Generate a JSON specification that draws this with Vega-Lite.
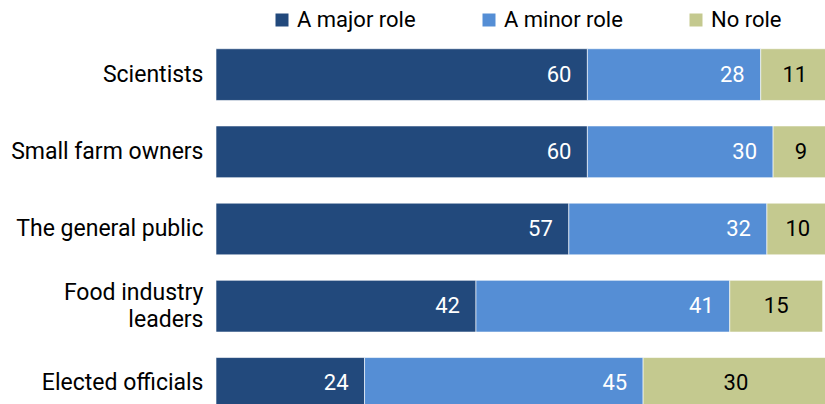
{
  "$schema": "https://vega.github.io/schema/vega-lite/v6.json",
  "autosize": {"type": "none"},
  "padding": {"left": 216, "top": 36, "right": 0, "bottom": 0},
  "width": 619,
  "height": 386,
  "background": "white",
  "config": {"view": {"stroke": null}, "font": "Roboto"},
  "data": {
    "values": [
      {"group": "Scientists", "role": "A major role", "order": 1, "value": 60},
      {"group": "Scientists", "role": "A minor role", "order": 2, "value": 28},
      {"group": "Scientists", "role": "No role", "order": 3, "value": 11},
      {"group": "Small farm owners", "role": "A major role", "order": 1, "value": 60},
      {"group": "Small farm owners", "role": "A minor role", "order": 2, "value": 30},
      {"group": "Small farm owners", "role": "No role", "order": 3, "value": 9},
      {"group": "The general public", "role": "A major role", "order": 1, "value": 57},
      {"group": "The general public", "role": "A minor role", "order": 2, "value": 32},
      {"group": "The general public", "role": "No role", "order": 3, "value": 10},
      {"group": "Food industry leaders", "role": "A major role", "order": 1, "value": 42},
      {"group": "Food industry leaders", "role": "A minor role", "order": 2, "value": 41},
      {"group": "Food industry leaders", "role": "No role", "order": 3, "value": 15},
      {"group": "Elected officials", "role": "A major role", "order": 1, "value": 24},
      {"group": "Elected officials", "role": "A minor role", "order": 2, "value": 45},
      {"group": "Elected officials", "role": "No role", "order": 3, "value": 30}
    ]
  },
  "transform": [
    {"stack": "value", "groupby": ["group"], "sort": [{"field": "order", "order": "ascending"}], "as": ["x0", "x1"], "offset": "zero"},
    {"calculate": "(datum.x0 + datum.x1) / 2", "as": "xmid"}
  ],
  "encoding": {
    "y": {
      "field": "group",
      "type": "nominal",
      "sort": ["Scientists", "Small farm owners", "The general public", "Food industry leaders", "Elected officials"],
      "scale": {"paddingInner": 0.33, "paddingOuter": 0.165},
      "axis": {
        "title": null,
        "ticks": false,
        "domain": false,
        "labelFontSize": 23,
        "labelColor": "#000000",
        "labelPadding": 13,
        "labelLimit": 0,
        "labelLineHeight": 27,
        "labelOffset": {"condition": {"test": "datum.value == 'Food industry leaders'", "value": -13}, "value": 0},
        "labelExpr": "datum.value == 'Food industry leaders' ? ['Food industry', 'leaders'] : datum.value"
      }
    }
  },
  "layer": [
    {
      "mark": {"type": "bar", "stroke": "#ffffff", "strokeWidth": 0.6, "clip": false},
      "encoding": {
        "x": {"field": "x0", "type": "quantitative", "scale": {"domain": [0, 100]}, "axis": null},
        "x2": {"field": "x1"},
        "color": {
          "field": "role",
          "type": "nominal",
          "scale": {"domain": ["A major role", "A minor role", "No role"], "range": ["#22497C", "#558ED5", "#C4C98F"]},
          "legend": {
            "title": null,
            "orient": "none",
            "direction": "horizontal",
            "legendX": 55,
            "legendY": -27,
            "symbolType": "square",
            "symbolSize": 169,
            "symbolStrokeWidth": 0,
            "labelFontSize": 22,
            "labelColor": "#000000",
            "labelOffset": 4,
            "columns": 3,
            "gridAlign": "all",
            "columnPadding": 62,
            "padding": 0
          }
        }
      }
    },
    {
      "transform": [{"filter": "datum.role != 'No role'"}],
      "mark": {"type": "text", "align": "right", "baseline": "middle", "dx": -16, "fontSize": 22, "color": "#ffffff"},
      "encoding": {
        "x": {"field": "x1", "type": "quantitative"},
        "text": {"field": "value", "type": "quantitative"}
      }
    },
    {
      "transform": [{"filter": "datum.role == 'No role'"}],
      "mark": {"type": "text", "align": "center", "baseline": "middle", "fontSize": 22, "color": "#000000"},
      "encoding": {
        "x": {"field": "xmid", "type": "quantitative"},
        "text": {"field": "value", "type": "quantitative"}
      }
    }
  ]
}
